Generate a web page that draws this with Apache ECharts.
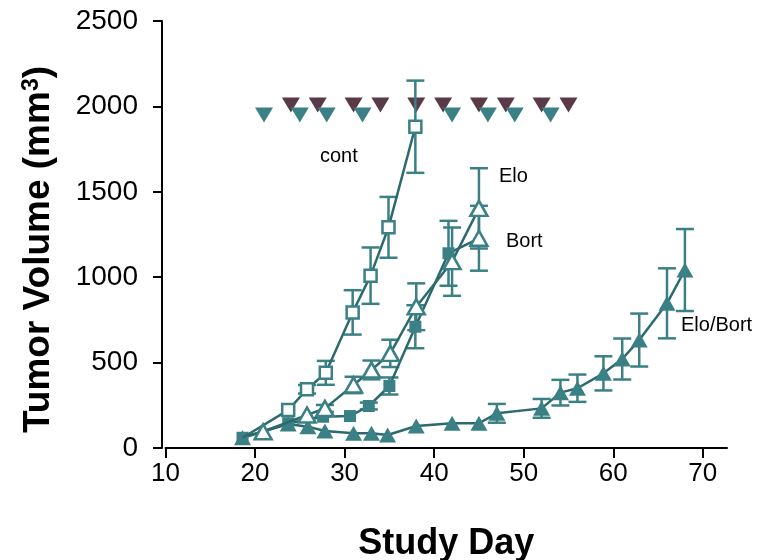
<!DOCTYPE html>
<html>
<head>
<meta charset="utf-8">
<script src="https://cdn.jsdelivr.net/npm/echarts@6/dist/echarts.min.js"></script>
<style>
html, body { margin: 0; padding: 0; background: #fff; }
#chart { width: 762px; height: 560px; }
</style>
</head>
<body>
<div id="chart"></div>
<script>
// group names
const groups = ['cont', 'Elo', 'Bort', 'Elo/Bort']

// control (open squares)
const contDays = [18.6, 23.7, 25.8, 27.9, 30.9, 32.9, 34.9, 37.9]
const contVol = [60, 222, 344, 440, 794, 1009, 1292, 1881]
const contErr = [0, 0, 25, 70, 130, 165, 178, 270]

// Elo (open triangles)
const eloDays = [20.9, 25.8, 27.8, 31, 33, 35.1, 38, 42, 45]
const eloVol = [95, 193, 232, 369, 457, 554, 827, 1091, 1403]
const eloErr = [0, 0, 20, 48, 55, 80, 137, 200, 235]

// Bort (filled squares)
const bortDays = [18.6, 23.7, 27.6, 30.6, 32.7, 35, 37.9, 41.6, 45]
const bortVol = [60, 145, 183, 187, 246, 363, 710, 1140, 1228]
const bortErr = [0, 0, 0, 0, 20, 50, 126, 190, 190]

// Elo/Bort (filled triangles)
const comboDays = [18.6, 23.7, 25.9, 27.8, 31, 33, 34.8, 38, 42, 45, 47, 52, 54.1, 56, 58.9, 61, 62.9, 66, 68]
const comboVol = [60, 140, 125, 100, 86, 86, 76, 129, 145, 145, 203, 232, 324, 350, 437, 521, 632, 847, 1042]
const comboErr = [0, 0, 0, 0, 0, 0, 0, 0, 0, 0, 55, 55, 75, 80, 100, 120, 155, 205, 240]

// dosing markers along the top
const doseDaysA = [24, 27, 31, 34, 38, 41, 45, 48, 52, 55]
const doseDaysB = [21, 25, 28, 32, 42, 46, 49, 53]
const doseLevelA = 2008
const doseLevelB = 1950

const lineColor = '#2b6a6e'
const markColor = '#3a8085'
const maroon = '#5b3a47'
const font = 'Liberation Sans, Arial, Helvetica, sans-serif'

function pairs(days, vals) {
  return days.map((d, i) => [d, vals[i]])
}
function errData(days, vals, errs) {
  let out = []
  days.forEach((d, i) => {
    if (errs[i] > 0) out.push([d, vals[i] - errs[i], vals[i] + errs[i]])
  })
  return out
}
function errSeries(data) {
  return {
    type: 'custom',
    data: data,
    z: 2,
    renderItem: function (params, api) {
      const lo = api.coord([api.value(0), api.value(1)])
      const hi = api.coord([api.value(0), api.value(2)])
      const w = 9
      const style = { stroke: markColor, lineWidth: 2.5 }
      return {
        type: 'group',
        children: [
          { type: 'line', shape: { x1: lo[0], y1: lo[1], x2: hi[0], y2: hi[1] }, style: style },
          { type: 'line', shape: { x1: lo[0] - w, y1: lo[1], x2: lo[0] + w, y2: lo[1] }, style: style },
          { type: 'line', shape: { x1: hi[0] - w, y1: hi[1], x2: hi[0] + w, y2: hi[1] }, style: style }
        ]
      }
    }
  }
}

// first control point sits under the filled Bort square
const contPoints = pairs(contDays, contVol)
contPoints[0] = { value: contPoints[0], symbol: 'none' }

const bortPoints = pairs(bortDays, bortVol)
// last Bort point is drawn as an open triangle in the figure
bortPoints[bortPoints.length - 1] = {
  value: bortPoints[bortPoints.length - 1],
  symbol: 'triangle',
  symbolSize: [17, 15],
  itemStyle: { color: '#fff', borderColor: markColor, borderWidth: 2.5 }
}

const myChart = echarts.init(document.getElementById('chart'))
myChart.setOption({
  animation: false,
  backgroundColor: '#fff',
  grid: { left: 165.5, right: 35, top: 21, bottom: 112, containLabel: false, outerBoundsMode: 'none' },
  xAxis: {
    type: 'value',
    min: 10,
    max: 72.7,
    interval: 10,
    name: 'Study Day',
    nameLocation: 'middle',
    nameGap: 78,
    nameTextStyle: { fontFamily: font, fontSize: 36, fontWeight: 'bold', color: '#000' },
    axisLine: { lineStyle: { color: '#000', width: 2 } },
    axisTick: { length: 10, lineStyle: { color: '#000', width: 2 } },
    axisLabel: { fontFamily: font, fontSize: 26, color: '#000', margin: 13, showMaxLabel: false },
    splitLine: { show: false }
  },
  yAxis: {
    type: 'value',
    min: 0,
    max: 2500,
    interval: 500,
    offset: 3.5,
    name: 'Tumor Volume (mm{sup|3})',
    nameLocation: 'middle',
    nameRotate: 90,
    nameGap: 105,
    nameTextStyle: {
      fontFamily: font, fontSize: 37, fontWeight: 'bold', color: '#000',
      padding: [0, 30, 0, 0],
      rich: { sup: { fontFamily: font, fontSize: 23, fontWeight: 'bold', color: '#000', verticalAlign: 'top', padding: [0, 0, 14, 0] } }
    },
    axisLine: { show: true, lineStyle: { color: '#000', width: 2 } },
    axisTick: { show: true, length: 9, lineStyle: { color: '#000', width: 2 } },
    axisLabel: { fontFamily: font, fontSize: 28, color: '#000', margin: 24, formatter: v => String(v) },
    splitLine: { show: false }
  },
  graphic: [
    { type: 'text', left: 320, top: 146, style: { text: groups[0], font: '20px ' + font, fill: '#000' } },
    { type: 'text', left: 499, top: 166, style: { text: groups[1], font: '20px ' + font, fill: '#000' } },
    { type: 'text', left: 506, top: 231, style: { text: groups[2], font: '20px ' + font, fill: '#000' } },
    { type: 'text', left: 681, top: 315, style: { text: groups[3], font: '20px ' + font, fill: '#000' } }
  ],
  series: [
    errSeries(errData(contDays, contVol, contErr)),
    errSeries(errData(eloDays, eloVol, eloErr)),
    errSeries(errData(bortDays, bortVol, bortErr)),
    errSeries(errData(comboDays, comboVol, comboErr)),
    {
      name: groups[3],
      type: 'line',
      data: pairs(comboDays, comboVol),
      z: 3,
      symbol: 'triangle',
      symbolSize: [17, 15],
      lineStyle: { color: lineColor, width: 2.5 },
      itemStyle: { color: markColor }
    },
    {
      name: groups[2],
      type: 'line',
      data: bortPoints,
      z: 3,
      symbol: 'rect',
      symbolSize: 12,
      lineStyle: { color: lineColor, width: 2.5 },
      itemStyle: { color: markColor }
    },
    {
      name: groups[1],
      type: 'line',
      data: pairs(eloDays, eloVol),
      z: 4,
      symbol: 'triangle',
      symbolSize: [17, 15],
      lineStyle: { color: lineColor, width: 2.5 },
      itemStyle: { color: '#fff', borderColor: markColor, borderWidth: 2.5 }
    },
    {
      name: groups[0],
      type: 'line',
      data: contPoints,
      z: 4,
      symbol: 'rect',
      symbolSize: 12,
      lineStyle: { color: lineColor, width: 2.5 },
      itemStyle: { color: '#fff', borderColor: markColor, borderWidth: 2.5 }
    },
    {
      name: 'dose A',
      type: 'scatter',
      data: doseDaysA.map(d => [d, doseLevelA]),
      z: 1,
      symbol: 'triangle',
      symbolRotate: 180,
      symbolSize: [18, 15],
      itemStyle: { color: maroon, opacity: 1 }
    },
    {
      name: 'dose B',
      type: 'scatter',
      data: doseDaysB.map(d => [d, doseLevelB]),
      z: 1,
      symbol: 'triangle',
      symbolRotate: 180,
      symbolSize: [18, 15],
      itemStyle: { color: markColor, opacity: 1 }
    }
  ]
})
</script>
</body>
</html>
